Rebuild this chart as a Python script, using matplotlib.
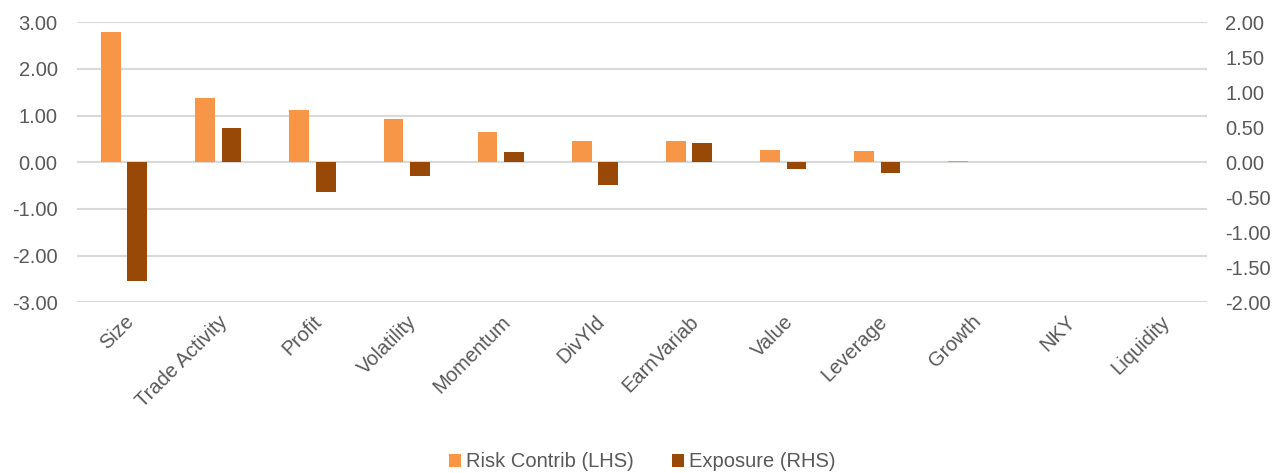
import numpy as np
import matplotlib.pyplot as plt
from matplotlib.ticker import FormatStrFormatter

plt.rcParams["font.family"] = ["Liberation Sans", "DejaVu Sans"]

factors = ["Size", "Trade Activity", "Profit", "Volatility", "Momentum", "DivYld",
           "EarnVariab", "Value", "Leverage", "Growth", "NKY", "Liquidity"]
risk_contrib = [2.80, 1.38, 1.13, 0.93, 0.64, 0.46, 0.46, 0.26, 0.25, 0.02, 0.0, 0.0]
exposure = [-1.69, 0.49, -0.42, -0.19, 0.15, -0.32, 0.28, -0.10, -0.15, 0.005, 0.0, 0.0]

orange = "#F79646"
brown = "#984807"
grey_txt = "#595959"
grid_col = "#D9D9D9"
fs = 14.5

fig = plt.figure(figsize=(12.84, 4.73), dpi=100)
ax = fig.add_axes([0.06, 0.361, 0.88, 0.592])
ax2 = ax.twinx()

x = np.arange(len(factors))
w = 0.21
off = 0.14

ax.set_ylim(-3, 3)
ax2.set_ylim(-2, 2)
ax.set_xlim(-0.5, len(factors) - 0.5)
ax.set_yticks(np.arange(-3, 3.01, 1))
ax2.set_yticks(np.arange(-2, 2.01, 0.5))
ax.yaxis.set_major_formatter(FormatStrFormatter("%.2f"))
ax2.yaxis.set_major_formatter(FormatStrFormatter("%.2f"))

for t in ax.get_yticks():
    ax.axhline(t, color=grid_col, lw=1.5, zorder=0)

b1 = ax.bar(x - off, risk_contrib, width=w, color=orange, linewidth=0,
            zorder=2, label="Risk Contrib (LHS)")
b2 = ax2.bar(x + off, exposure, width=w, color=brown, linewidth=0,
             zorder=2, label="Exposure (RHS)")

ax.set_xticks(x)
ax.set_xticklabels(factors, rotation=45, ha="right", rotation_mode="anchor")

for a in (ax, ax2):
    for s in a.spines.values():
        s.set_visible(False)
    a.tick_params(length=0, labelsize=fs, colors=grey_txt)
ax.tick_params(axis="y", pad=14)
ax.tick_params(axis="x", pad=7)
ax2.tick_params(axis="y", pad=13)

fig.legend(handles=[b1, b2], loc="lower center", bbox_to_anchor=(0.5, -0.035), ncol=2,
           frameon=False, fontsize=fs, labelcolor=grey_txt, handlelength=0.6,
           handleheight=0.6, handletextpad=0.25, columnspacing=1.9)

fig.savefig("out.png", dpi=100)
